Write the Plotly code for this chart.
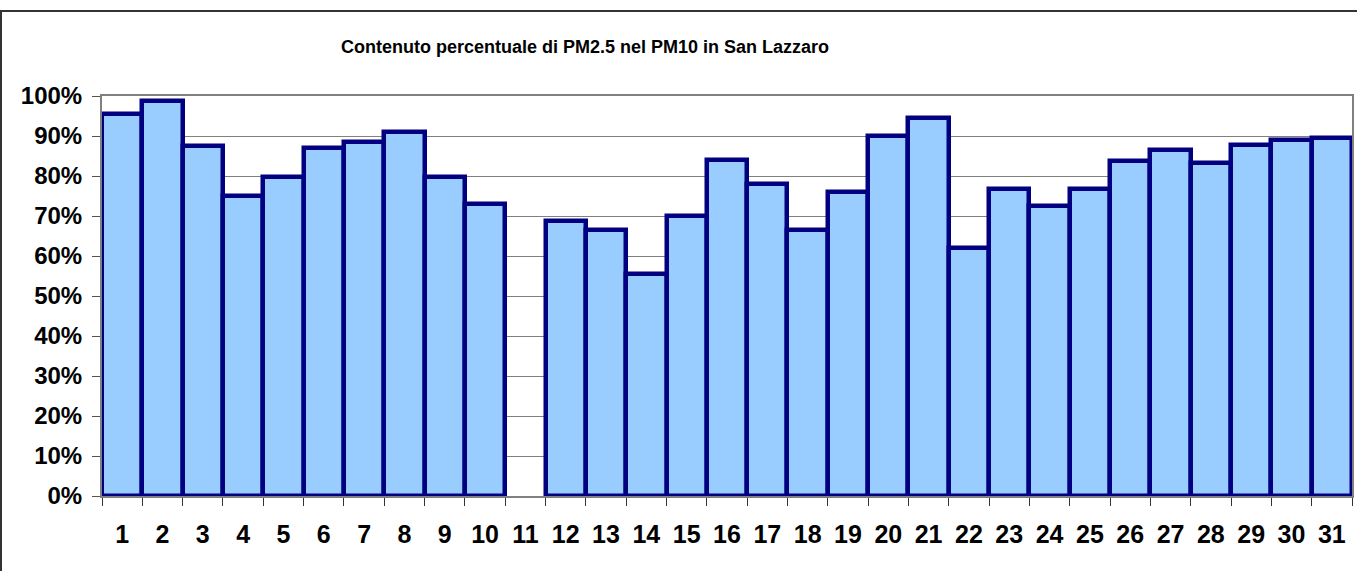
import plotly.graph_objects as go

days = [str(d) for d in range(1, 32)]
pm_share = [0.954, 0.987, 0.874, 0.749, 0.798, 0.869, 0.885, 0.909, 0.798, 0.730,
            None, 0.688, 0.665, 0.555, 0.701, 0.840, 0.780, 0.665, 0.759, 0.899,
            0.945, 0.619, 0.768, 0.726, 0.768, 0.838, 0.864, 0.832, 0.877, 0.889, 0.894]
y_ticks = [i / 10 for i in range(0, 11)]
title_text = "Contenuto percentuale di PM2.5 nel PM10 in San Lazzaro"

W, H = 1357, 571
ML, MR, MT, MB = 102, 5, 96, 75
pw = W - ML - MR
ph = H - MT - MB

def px_x(px):
    return (px - ML) / pw

def px_y(py):
    return (H - MB - py) / ph

fig = go.Figure()
fig.add_trace(go.Bar(
    x=days, y=pm_share,
    marker=dict(color="#99CCFF", line=dict(color="#000080", width=4.5)),
    hoverinfo="x+y",
))

font = "Liberation Sans, Arial, sans-serif"
fig.update_layout(
    width=W, height=H,
    margin=dict(l=ML, r=MR, t=MT, b=MB, autoexpand=False),
    paper_bgcolor="white", plot_bgcolor="white",
    bargap=0,
    showlegend=False,
    title=dict(text="<b>" + title_text + "</b>", x=585 / W, xref="container", xanchor="center",
               y=1 - 47 / H, yref="container", yanchor="middle",
               font=dict(family=font, size=18, color="black")),
    font=dict(family=font, color="black"),
    xaxis=dict(type="category", tickson="boundaries", ticks="outside", ticklen=8,
               tickcolor="#333333", showline=True, linecolor="#808080", linewidth=2,
               mirror=True, showgrid=False,
               tickfont=dict(family=font, size=25, color="black", weight="bold"),
               ticklabelstandoff=15),
    yaxis=dict(range=[0, 1], tickvals=y_ticks, tickformat=".0%", ticks="outside",
               ticklen=8, tickcolor="#555555", showline=True, linecolor="#808080",
               linewidth=2, mirror=True, showgrid=True, gridcolor="#808080", gridwidth=1,
               zeroline=False,
               tickfont=dict(family=font, size=24, color="black", weight="bold"),
               ticklabelstandoff=5),
    shapes=[dict(type="rect", xref="paper", yref="paper",
                 x0=px_x(1), x1=px_x(1362), y0=px_y(576), y1=px_y(11),
                 line=dict(color="#333333", width=2), layer="above")],
)

fig.write_html("out.html", config={"displayModeBar": False},
               post_script="document.body.style.margin='0';document.body.style.overflow='hidden';")
